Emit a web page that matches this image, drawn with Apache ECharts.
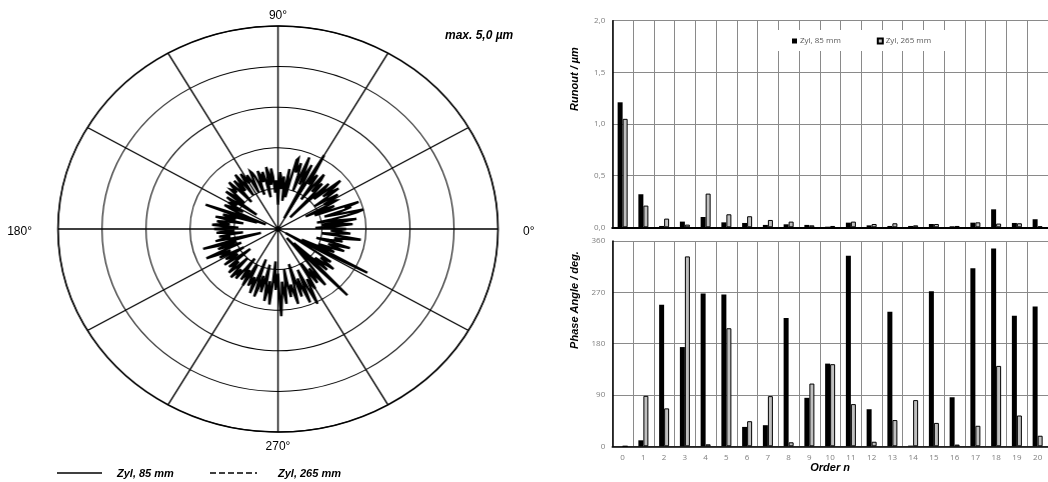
<!DOCTYPE html>
<html>
<head>
<meta charset="utf-8">
<script src="https://cdn.jsdelivr.net/npm/echarts/dist/echarts.min.js"></script>
<style>
  html, body { margin: 0; padding: 0; background: #fff; }
  #page { position: relative; width: 1048px; height: 482px; overflow: hidden; }
  #main { position: absolute; left: 0; top: 0; width: 1048px; height: 482px; }
  /* polar plot is drawn round, then widened to the elliptic frame */
  #polar { position: absolute; left: 68px; top: 19px; width: 420px; height: 420px;
           transform: scaleX(1.0837); transform-origin: 50% 50%; }
</style>
</head>
<body>
<div id="page">
  <div id="main"></div>
  <div id="polar"></div>
</div>
<script>
// ---- data -------------------------------------------------------------
// Runout profile of "Zyl, 85 mm" in µm, one value per degree (0° .. 359°)
const profileStep = 1;
const profile85 = [
  1.55, 1.2, 0.85, 1.3, 1.7, 1.5, 1.0, 1.45, 1.8, 1.35,
  0.9, 1.25, 1.6, 1.85, 2.0, 1.4, 1.1, 1.5, 1.75, 1.6,
  1.95, 1.3, 0.9, 1.15, 1.4, 1.05, 0.7, 1.2, 1.5, 1.45,
  1.2, 1.5, 1.6, 1.25, 1.0, 1.35, 1.7, 1.5, 1.3, 1.65,
  1.85, 1.4, 1.1, 1.45, 1.6, 1.0, 0.4, 1.2, 1.5, 1.35,
  1.2, 1.55, 1.7, 1.3, 0.9, 1.25, 1.6, 1.45, 1.3, 1.7,
  2.1, 1.1, 0.3, 1.2, 1.75, 1.5, 1.2, 1.6, 1.9, 1.35,
  1.0, 1.4, 1.7, 1.55, 1.45, 1.8, 1.75, 1.2, 0.8, 1.1,
  1.5, 1.0, 0.7, 1.05, 1.3, 1.15, 1.0, 1.3, 1.4, 0.95,
  0.6, 0.95, 1.2, 1.1, 0.9, 1.3, 1.5, 1.25, 1.1, 1.4,
  1.55, 1.1, 0.8, 1.2, 1.45, 1.35, 1.2, 1.4, 1.5, 1.15,
  0.9, 1.2, 1.4, 1.5, 1.55, 1.25, 1.0, 1.3, 1.5, 1.4,
  1.3, 1.45, 1.6, 1.3, 1.0, 1.4, 1.65, 1.45, 1.2, 1.35,
  1.55, 1.2, 0.9, 1.3, 1.6, 1.45, 1.3, 1.4, 1.45, 1.2,
  1.0, 1.3, 1.5, 1.05, 0.6, 1.0, 1.4, 1.25, 1.1, 1.2,
  1.3, 1.1, 0.9, 1.2, 1.35, 1.2, 1.0, 0.7, 0.3, 1.0,
  1.75, 1.1, 0.5, 0.9, 1.3, 1.15, 1.0, 1.25, 1.45, 1.1,
  0.8, 1.15, 1.4, 1.3, 1.1, 1.35, 1.5, 1.2, 0.9, 1.2,
  1.45, 1.2, 1.0, 1.25, 1.4, 1.1, 0.8, 1.1, 1.35, 1.2,
  1.1, 1.3, 1.45, 0.9, 0.4, 1.1, 1.77, 1.4, 1.0, 1.2,
  1.45, 1.15, 0.9, 1.3, 1.78, 1.5, 1.2, 1.35, 1.5, 1.2,
  0.9, 1.15, 1.4, 1.3, 1.1, 1.3, 1.5, 1.15, 0.8, 1.1,
  1.45, 1.35, 1.2, 1.4, 1.55, 1.3, 1.0, 1.3, 1.6, 1.45,
  1.3, 1.45, 1.55, 1.2, 0.9, 1.2, 1.5, 1.35, 1.2, 1.4,
  1.6, 1.3, 1.0, 1.3, 1.55, 1.45, 1.3, 1.5, 1.7, 1.25,
  0.8, 1.3, 1.75, 1.5, 1.2, 1.4, 1.6, 1.3, 0.9, 1.35,
  1.8, 1.55, 1.3, 1.6, 1.87, 1.3, 0.8, 1.2, 1.5, 1.3,
  1.1, 1.6, 2.15, 1.7, 1.3, 1.55, 1.85, 1.4, 1.0, 1.35,
  1.7, 1.5, 1.4, 1.65, 1.9, 1.4, 0.9, 1.3, 1.75, 1.5,
  1.3, 1.6, 1.95, 1.5, 1.1, 1.6, 2.05, 1.7, 1.4, 1.55,
  1.7, 1.35, 1.0, 1.3, 1.6, 1.4, 1.2, 1.5, 1.75, 1.3,
  0.9, 0.6, 0.3, 1.2, 2.27, 1.3, 0.5, 1.0, 1.5, 1.3,
  1.1, 1.35, 1.6, 1.4, 1.2, 1.3, 1.45, 1.1, 0.6, 0.4,
  0.2, 1.1, 2.3, 1.4, 0.6, 1.0, 1.4, 1.2, 1.0, 1.3,
  1.6, 1.4, 1.2, 1.45, 1.7, 1.3, 0.9, 1.2, 1.5, 1.4,
  1.3, 1.6, 1.9, 1.4, 1.0, 1.3, 1.65, 1.45, 1.2, 1.4
];
// Profile of "Zyl, 265 mm" (not traced in the plot)
const profile265 = [];

const polarMax = 5;          // µm at the outer ring
const polarLabels = ['0°', '90°', '180°', '270°'];
const seriesNames = ['Zyl, 85 mm', 'Zyl, 265 mm'];

// Harmonic analysis, orders 0 .. 20
const orders = ['0','1','2','3','4','5','6','7','8','9','10','11','12','13','14','15','16','17','18','19','20'];
const runout85  = [1.21, 0.32, 0.013, 0.055, 0.10, 0.048, 0.042, 0.023, 0.029, 0.023, 0.006, 0.045, 0.019, 0.013, 0.013, 0.032, 0.010, 0.045, 0.174, 0.042, 0.078];
const runout265 = [1.05, 0.21, 0.084, 0.026, 0.326, 0.126, 0.107, 0.071, 0.055, 0.019, 0.013, 0.055, 0.032, 0.039, 0.019, 0.032, 0.013, 0.048, 0.036, 0.039, 0.010];
const phase85   = [0, 10.5, 248, 174, 268, 266, 34, 37, 225, 85, 145, 334, 65, 236, 1.2, 272, 86, 312, 347, 229, 245];
const phase265  = [0, 88.5, 66.5, 333, 3.5, 207, 44, 88, 7, 110, 144, 74, 8, 46, 81, 41, 3, 36, 141, 54, 18.5];

const runoutTicks = [0, 0.5, 1.0, 1.5, 2.0];
const phaseTicks  = [0, 90, 180, 270, 360];

// ---- polar profile ----------------------------------------------------
const polarChart = echarts.init(document.getElementById('polar'), null, { renderer: 'svg' });
const toPolar = arr => {
  const pts = arr.map((r, i) => [r, i * profileStep]);
  if (pts.length) pts.push([arr[0], 360]);
  return pts;
};
polarChart.setOption({
  animation: false,
  polar: { center: ['50%', '50%'], radius: 203 },
  angleAxis: {
    type: 'value', min: 0, max: 360, interval: 30,
    startAngle: 0, clockwise: false,
    axisLine: { lineStyle: { color: '#000', width: 1.5 } },
    axisTick: { show: false },
    axisLabel: { show: false },
    splitLine: { show: true, lineStyle: { color: '#000', width: 1.3 } }
  },
  radiusAxis: {
    type: 'value', min: 0, max: polarMax, interval: 1,
    axisLine: { show: false }, axisTick: { show: false }, axisLabel: { show: false },
    splitLine: { show: true, lineStyle: { color: '#000', width: 1 } }
  },
  series: [
    { name: seriesNames[0], type: 'line', coordinateSystem: 'polar', data: toPolar(profile85),
      symbol: 'none', lineStyle: { color: '#000', width: 2.3, join: 'miter' } },
    { name: seriesNames[1], type: 'line', coordinateSystem: 'polar', data: toPolar(profile265),
      symbol: 'none', lineStyle: { color: '#000', width: 1.5, type: [6, 3] } }
  ]
});

// ---- bar charts and annotations ---------------------------------------
const mainChart = echarts.init(document.getElementById('main'));
const labelFont = 'Liberation Sans, Arial, sans-serif';
const tickStyle = { fontSize: 8, color: '#7f7f7f', fontFamily: 'Open Sans, sans-serif' };
const gridLeft = 612.25, gridWidth = 438.9;

const txt = (text, x, y, font, align, rot) => ({
  type: 'text', x: x, y: y, rotation: rot || 0,
  style: { text: text, font: font, fill: '#000', textAlign: align || 'center', textVerticalAlign: 'middle' }
});

mainChart.setOption({
  animation: false,
  grid: [
    { left: gridLeft, top: 20.7, width: gridWidth, height: 206.6 },
    { left: gridLeft, top: 241, width: gridWidth, height: 205.3 }
  ],
  legend: {
    data: seriesNames,
    left: 759, top: 30,
    padding: [7, 29, 6, 33],
    backgroundColor: '#fff',
    itemWidth: 5, itemHeight: 5, itemGap: 36,
    icon: 'rect',
    textStyle: { fontSize: 8, color: '#595959', fontFamily: 'Open Sans, sans-serif', padding: [0, 0, 0, -2] },
    selectedMode: false
  },
  xAxis: [
    { type: 'category', gridIndex: 0, data: orders,
      axisLine: { lineStyle: { color: '#000', width: 2 } },
      axisTick: { show: false }, axisLabel: { show: false },
      splitLine: { show: true, interval: 0, lineStyle: { color: '#8a8a8a', width: 1 } } },
    { type: 'category', gridIndex: 1, data: orders,
      axisLine: { lineStyle: { color: '#000', width: 1.5 } },
      axisTick: { show: false },
      axisLabel: Object.assign({ margin: 7, interval: 0 }, tickStyle),
      splitLine: { show: true, interval: 0, lineStyle: { color: '#8a8a8a', width: 1 } },
      name: 'Order n', nameLocation: 'middle', nameGap: 16,
      nameTextStyle: { fontFamily: labelFont, fontSize: 11, fontWeight: 'bold', fontStyle: 'italic', color: '#000' } }
  ],
  yAxis: [
    { type: 'value', gridIndex: 0, min: runoutTicks[0], max: runoutTicks[runoutTicks.length - 1],
      interval: runoutTicks[1] - runoutTicks[0],
      axisLine: { show: true, lineStyle: { color: '#000', width: 1.5 } },
      axisTick: { show: false },
      axisLabel: Object.assign({ margin: 7, formatter: v => v.toFixed(1).replace('.', ',') }, tickStyle),
      splitLine: { lineStyle: { color: '#8a8a8a', width: 1 } } },
    { type: 'value', gridIndex: 1, min: phaseTicks[0], max: phaseTicks[phaseTicks.length - 1],
      interval: phaseTicks[1] - phaseTicks[0],
      axisLine: { show: true, lineStyle: { color: '#000', width: 1.5 } },
      axisTick: { show: false },
      axisLabel: Object.assign({ margin: 7 }, tickStyle),
      splitLine: { lineStyle: { color: '#8a8a8a', width: 1 } } }
  ],
  series: [
    { name: seriesNames[0], type: 'bar', xAxisIndex: 0, yAxisIndex: 0, data: runout85,
      barWidth: 5, barGap: '0%', itemStyle: { color: '#000' } },
    { name: seriesNames[1], type: 'bar', xAxisIndex: 0, yAxisIndex: 0, data: runout265,
      barWidth: 5, barGap: '0%', itemStyle: { color: '#bfbfbf', borderColor: '#000', borderWidth: 1 } },
    { name: seriesNames[0], type: 'bar', xAxisIndex: 1, yAxisIndex: 1, data: phase85,
      barWidth: 5, barGap: '0%', itemStyle: { color: '#000' } },
    { name: seriesNames[1], type: 'bar', xAxisIndex: 1, yAxisIndex: 1, data: phase265,
      barWidth: 5, barGap: '0%', itemStyle: { color: '#bfbfbf', borderColor: '#000', borderWidth: 1 } }
  ],
  graphic: [
    // angle labels round the polar plot
    txt(polarLabels[1], 278, 16, '12px ' + labelFont, 'center'),
    txt(polarLabels[3], 278, 447, '12px ' + labelFont, 'center'),
    txt(polarLabels[2], 32, 232, '12px ' + labelFont, 'right'),
    txt(polarLabels[0], 523, 232, '12px ' + labelFont, 'left'),
    txt('max. ' + polarMax.toFixed(1).replace('.', ',') + ' µm', 445, 36, 'italic bold 12px ' + labelFont, 'left'),
    // profile legend
    { type: 'line', shape: { x1: 57, y1: 473, x2: 102, y2: 473 }, style: { stroke: '#000', lineWidth: 1.6 } },
    txt(seriesNames[0], 117, 474, 'italic bold 11px ' + labelFont, 'left'),
    { type: 'line', shape: { x1: 210, y1: 473, x2: 257, y2: 473 }, style: { stroke: '#000', lineWidth: 1.6, lineDash: [6, 3] } },
    txt(seriesNames[1], 278, 474, 'italic bold 11px ' + labelFont, 'left'),
    // axis titles of the bar charts
    txt('Runout / µm', 575, 79, 'italic bold 11px ' + labelFont, 'center', Math.PI / 2),
    txt('Phase Angle / deg.', 575, 300, 'italic bold 11px ' + labelFont, 'center', Math.PI / 2)
  ]
});
</script>
</body>
</html>
